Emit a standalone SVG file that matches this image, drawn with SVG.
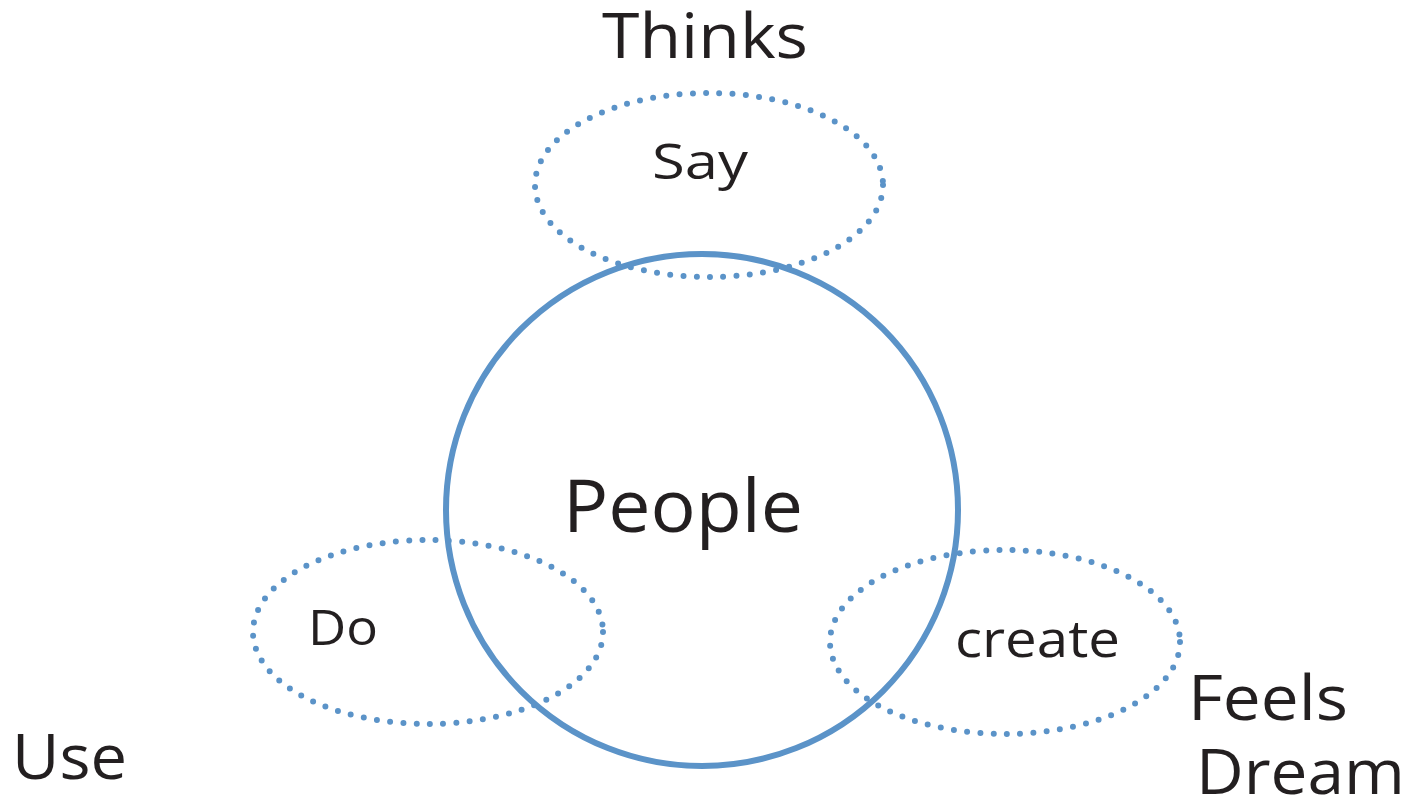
<svg xmlns="http://www.w3.org/2000/svg" width="1413" height="799" viewBox="0 0 1413 799">
  <style>
    .lbl { font-family: "Open Sans", "Liberation Sans", sans-serif; fill: #231f20; }
    .dotted { fill: none; stroke: #5b93c8; stroke-width: 6; stroke-linecap: round; stroke-dasharray: 0 13.3; }
    .solid { fill: none; stroke: #5b93c8; stroke-width: 6; }
  </style>
  <rect width="1413" height="799" fill="#ffffff"/>

  <!-- Outer labels -->
  <text class="lbl" x="602" y="58" font-size="62" textLength="206" lengthAdjust="spacingAndGlyphs">Thinks</text>
  <text class="lbl" x="12" y="779" font-size="62" textLength="115" lengthAdjust="spacingAndGlyphs">Use</text>
  <text class="lbl" x="1188" y="720" font-size="62" textLength="160" lengthAdjust="spacingAndGlyphs">Feels</text>
  <text class="lbl" x="1196" y="794" font-size="62" textLength="209" lengthAdjust="spacingAndGlyphs">Dream</text>

  <!-- Say bubble -->
  <g id="say">
    <ellipse class="dotted" cx="709" cy="185" rx="174" ry="92"/>
    <text class="lbl" x="652" y="179" font-size="50" textLength="96" lengthAdjust="spacingAndGlyphs">Say</text>
  </g>

  <!-- Do bubble -->
  <g id="do">
    <ellipse class="dotted" cx="428" cy="632" rx="175" ry="92"/>
    <text class="lbl" x="308" y="645" font-size="50" textLength="70" lengthAdjust="spacingAndGlyphs">Do</text>
  </g>

  <!-- create bubble -->
  <g id="create">
    <ellipse class="dotted" cx="1005" cy="642" rx="175" ry="92"/>
    <text class="lbl" x="955" y="657" font-size="52" textLength="165" lengthAdjust="spacingAndGlyphs">create</text>
  </g>

  <!-- Central circle -->
  <g id="people">
    <circle class="solid" cx="702" cy="510" r="256"/>
    <text class="lbl" x="563" y="532" font-size="74" textLength="240" lengthAdjust="spacingAndGlyphs">People</text>
  </g>

  <g id="connectors"></g>
</svg>
